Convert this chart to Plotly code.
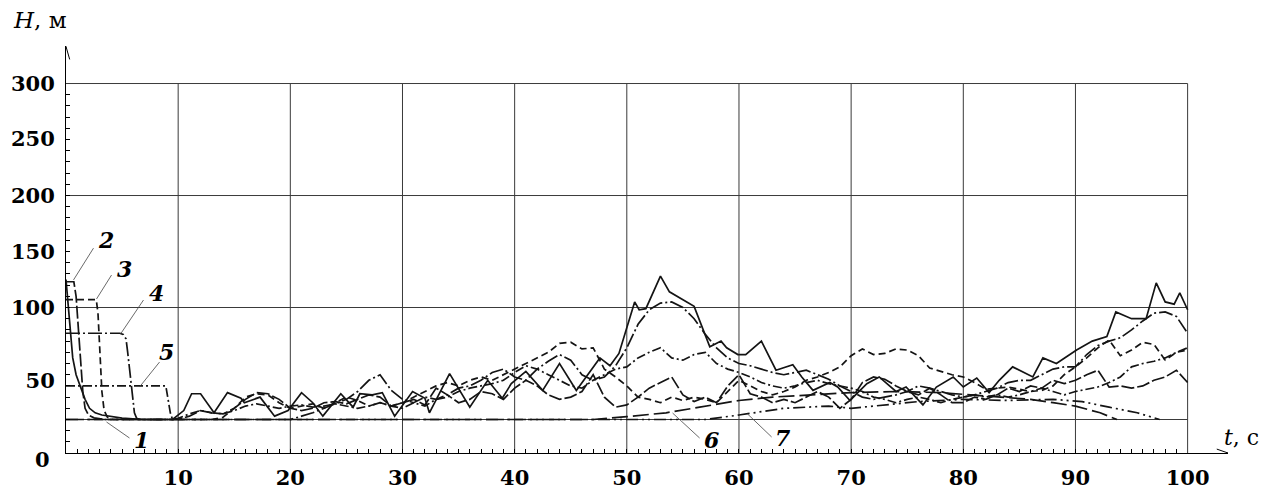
import plotly.graph_objects as go

# ---------------- data ----------------
T_GRID = [10, 11, 12, 13, 14, 15, 16, 17, 18, 19, 20, 21, 22, 23, 24, 25, 26, 27, 28, 29,
          30, 31, 32, 33, 34, 35, 36, 37, 38, 39, 40, 41, 42, 43, 44, 45, 46, 47, 48, 49,
          50, 51, 52, 53, 54, 55, 56, 57, 58, 59, 60, 61, 62, 63, 64, 65, 66, 67, 68, 69,
          70, 71, 72, 73, 74, 75, 76, 77, 78, 79, 80, 81, 82, 83, 84, 85, 86, 87, 88, 89,
          90, 91, 92, 93, 94, 95, 96, 97, 98, 99, 100]

T1 = [0, 0.2, 0.4, 0.6, 0.9, 1.3, 1.7, 2.1, 2.6, 3.2, 4.0, 5.0, 6.9, 9.5, 10.5, 11.2, 12.0, 13.2,
      14.4, 15.6, 15.9, 17.3, 18.6, 19.8, 21.0, 22.0, 22.9, 24.5, 25.6, 26.2, 27.3, 28.2, 29.3,
      30.3, 30.9, 32.0, 32.4, 34.2, 36.0, 37.6, 38.9, 39.7, 41.0, 42.5, 44.0, 45.5, 47.6, 48.5,
      49.3, 50.7, 51.1, 51.7, 53.0, 53.8, 56.0, 57.4, 58.4, 58.9, 59.9, 60.6, 62.0, 63.3, 64.8,
      65.6, 66.6, 68.1, 68.8, 69.9, 71.4, 72.5, 74.0, 74.9, 76.4, 77.6, 79.1, 80.0, 81.2, 82.3,
      83.2, 84.4, 86.2, 87.1, 88.3, 90.1, 91.5, 92.8, 93.6, 95.0, 96.3, 97.2, 98.0, 98.8, 99.3, 100]
H1 = [125, 100, 76, 55, 40, 28, 18, 10, 6, 4, 2.5, 1.2, 0, 0, 8, 23, 23, 6,
      24, 19, 15, 20, 3, 8, 24, 15, 3, 23, 11, 23, 22, 24, 3,
      17, 25, 19, 6, 41, 11, 35, 19, 32, 43, 26, 50, 26, 55, 48,
      59, 105, 98, 99, 128, 114, 101, 65, 70, 64, 58, 58, 70, 44, 49,
      38, 26, 33, 29, 17, 32, 38, 25, 29, 13, 29, 38, 29, 37, 24,
      35, 47, 38, 55, 50, 62, 70, 74, 96, 90, 90, 122, 105, 103, 113, 98]

T2_START = [0, 0.7, 0.9, 1.1, 1.3, 1.5, 1.7, 2.0, 2.5, 3.5]
H2_START = [123, 123, 110, 80, 50, 25, 10, 4, 1.5, 0]
H2 = [0, 3, 8, 6, 5, 10, 18, 24, 23, 18,
      10, 8, 10, 15, 16, 14, 18, 22, 20, 12,
      15, 18, 13, 28, 22, 15, 18, 25, 23, 18,
      28, 35, 30, 22, 18, 20, 25, 40, 20, 11,
      13, 20, 28, 33, 38, 22, 16, 20, 15, 30,
      40, 23, 20, 15, 18, 15, 20, 25, 20, 10,
      18, 33, 38, 36, 30, 25, 22, 28, 22, 15,
      15, 20, 18, 22, 28, 25, 30, 28, 35, 32,
      35, 40, 44, 29, 30, 28, 30, 35, 38, 44, 33]

T3_START = [0, 2.7, 2.85, 3.0, 3.2, 3.4, 3.7, 4.2]
H3_START = [107, 107, 95, 60, 25, 8, 2, 0]
H3 = [0, 0, 0, 0, 2, 10, 20, 23, 22, 15,
      10, 12, 14, 10, 15, 20, 17, 12, 15, 12,
      15, 20, 25, 30, 33, 30, 35, 38, 35, 40,
      45, 50, 55, 60, 68, 69, 63, 64, 45, 38,
      30, 20, 18, 15, 20, 17, 20, 18, 15, 25,
      35, 30, 25, 22, 25, 29, 35, 38, 42, 47,
      57, 63, 58, 59, 63, 62, 57, 46, 43, 40,
      38, 33, 27, 28, 29, 27, 25, 26, 30, 40,
      47, 55, 64, 71, 57, 62, 69, 67, 53, 60, 62]

T4_START = [0, 4.8, 5.1, 5.35, 5.5, 5.7, 5.9, 6.1, 6.3, 6.6]
H4_START = [77, 77, 76, 72, 60, 40, 20, 6, 1, 0]
H4 = [0, 0, 0, 0, 0, 0, 0, 0, 0, 0,
      0, 3, 6, 10, 14, 18, 25, 35, 40, 26,
      18, 15, 20, 18, 22, 28, 30, 35, 42, 45,
      38, 35, 45, 52, 58, 53, 40, 35, 38, 48,
      64, 85, 98, 104, 105, 100, 90, 76, 64, 55,
      50, 48, 45, 42, 40, 42, 44, 40, 36, 30,
      25, 20, 18, 20, 22, 25, 30, 28, 25, 22,
      20, 22, 25, 28, 33, 35, 35, 40, 45, 47,
      47, 58, 66, 70, 73, 80, 88, 95, 96, 92, 77]

T5_START = [0, 8.9, 9.1, 9.3, 9.5]
H5_START = [30, 30, 18, 6, 0]
H5 = [1, 5, 8, 6, 5, 8, 12, 14, 12, 10,
      12, 13, 11, 12, 14, 12, 10, 12, 15, 12,
      10, 15, 12, 18, 20, 25, 28, 30, 32, 35,
      42, 48, 45, 40, 35, 30, 28, 35, 40, 45,
      47, 55, 60, 64, 55, 53, 58, 60, 50, 45,
      42, 38, 33, 30, 28, 30, 33, 35, 32, 30,
      28, 25, 20, 18, 15, 18, 20, 18, 15, 18,
      20, 22, 20, 22, 20, 22, 25, 28, 25, 22,
      25, 27, 29, 33, 38, 47, 50, 52, 55, 60, 64]

T6 = [0, 47, 50, 53.5, 56.5, 60, 63, 66, 70, 74, 78, 82, 86, 88, 90, 92.2, 93.7]
H6 = [0, 0, 2.5, 6, 11, 17, 20, 22, 24, 25, 24, 21, 18, 15, 12, 6, 0]

T7 = [0, 57, 60, 64, 68, 70, 72, 76, 80, 84, 88, 90.6, 93, 95.5, 97.5]
H7 = [0, 0, 4, 10, 12, 10, 12, 16, 18, 17, 18, 16, 11, 6, 0]

X_TICKS = [10, 20, 30, 40, 50, 60, 70, 80, 90, 100]
X_TICK_TEXT = ["10", "20", "30", "40", "50", "60", "70", "80", "90", "100"]
Y_TICKS = [35, 100, 150, 200, 251, 300]
Y_TICK_TEXT = ["50", "100", "150", "200", "250", "300"]
H_GRID = [0, 100, 200, 300]

CURVE_LABELS = ["1", "2", "3", "4", "5", "6", "7"]
LABEL_POS = [(6.73, -18.3), (3.61, 160.3), (5.22, 134.4), (8.07, 113.0), (8.96, 60.3), (57.56, -18.3), (63.9, -16.5)]
LEADERS = [((3.61, -2.2), (5.66, -16.5)), ((0.67, 124.6), (2.45, 153.0)), ((2.72, 107.6), (4.06, 129.0)),
           ((4.86, 76.3), (6.91, 106.7)), ((6.55, 29.0), (8.34, 51.3)), ((54.08, 5.8), (56.49, -16.5)),
           ((60.77, 4.9), (62.91, -15.6))]

# ---------------- figure ----------------
INK = "#141414"
FONT = "DejaVu Serif"
series = [
    (T1, H1, "solid"),
    (T2_START + T_GRID, H2_START + H2, "13px,3px"),
    (T3_START + T_GRID, H3_START + H3, "7px,4px"),
    (T4_START + T_GRID, H4_START + H4, "14px,3px,2px,3px"),
    (T5_START + T_GRID, H5_START + H5, "9px,3px,2px,3px"),
    (T6, H6, "16px,5px"),
    (T7, H7, "12px,4px,2px,4px,2px,4px"),
]

fig = go.Figure()
for tx, hy, dash in series:
    fig.add_trace(go.Scatter(x=tx, y=hy, mode="lines", showlegend=False, hoverinfo="skip",
                             line=dict(color=INK, width=1.7, dash=dash)))

# arrowheads of axes
fig.add_trace(go.Scatter(x=[-0.33, 0, 0.33], y=[321.5, 333, 321.5], mode="lines", cliponaxis=False,
                         showlegend=False, hoverinfo="skip", line=dict(color="black", width=1)))
fig.add_trace(go.Scatter(x=[102.6, 103.6, 102.6], y=[-26.4, -29.9, -33.4], mode="lines", cliponaxis=False,
                         showlegend=False, hoverinfo="skip", line=dict(color="black", width=1)))

shapes = []
for t in X_TICKS:
    shapes.append(dict(type="line", xref="x", yref="y", x0=t, x1=t, y0=-29.9, y1=300,
                       line=dict(color="#3a3a3a", width=1), layer="below"))
for v in H_GRID:
    shapes.append(dict(type="line", xref="x", yref="y", x0=0, x1=100, y0=v, y1=v,
                       line=dict(color="#3a3a3a", width=1), layer="below"))
for (a, b) in LEADERS:
    shapes.append(dict(type="line", xref="x", yref="y", x0=a[0], y0=a[1], x1=b[0], y1=b[1],
                       line=dict(color="#444", width=0.8)))

annotations = []
for lab, (lx, ly) in zip(CURVE_LABELS, LABEL_POS):
    annotations.append(dict(x=lx, y=ly, xref="x", yref="y", text="<b><i>" + lab + "</i></b>", showarrow=False,
                            font=dict(family=FONT, size=22, color="black")))
annotations.append(dict(x=-0.012, y=-0.017, xref="paper", yref="paper", text="<b>0</b>", showarrow=False,
                        xanchor="right", yanchor="middle", font=dict(family=FONT, size=21, color="black")))
annotations.append(dict(x=-0.047, y=1.064, xref="paper", yref="paper", text="<i>H</i>, м", showarrow=False,
                        xanchor="left", yanchor="middle", font=dict(family=FONT, size=23, color="black")))
annotations.append(dict(x=0.995, y=0.039, xref="paper", yref="paper", text="<i>t</i>, с", showarrow=False,
                        xanchor="left", yanchor="middle", font=dict(family=FONT, size=22, color="black")))

tick_font = dict(family=FONT, size=21, color="black", weight="bold")
fig.update_layout(
    width=1263, height=492, autosize=False,
    margin=dict(l=66, r=35, t=46, b=39, pad=0),
    paper_bgcolor="white", plot_bgcolor="white",
    shapes=shapes, annotations=annotations,
    xaxis=dict(range=[0, 103.6], showgrid=False, zeroline=False, showline=True, linecolor="black",
               linewidth=1, tickmode="array", tickvals=X_TICKS, ticktext=X_TICK_TEXT, ticks="",
               ticklabelstandoff=6, tickfont=tick_font, automargin=False,
               minor=dict(tickmode="array", tickvals=[i for i in range(1, 100)], ticks="inside",
                          ticklen=4, tickcolor="black", tickwidth=1, showgrid=False)),
    yaxis=dict(range=[-29.9, 333.5], showgrid=False, zeroline=False, showline=True, linecolor="black",
               linewidth=1, tickmode="array", tickvals=Y_TICKS, ticktext=Y_TICK_TEXT, ticks="",
               ticklabelstandoff=6, tickfont=tick_font, automargin=False,
               minor=dict(tickmode="array", tickvals=[v for v in range(-20, 300, 10)], ticks="inside",
                          ticklen=4, tickcolor="black", tickwidth=1, showgrid=False)),
)

fig.write_html("out.html", config={"displayModeBar": False},
               post_script="document.body.style.margin='0';document.body.style.overflow='hidden';")
